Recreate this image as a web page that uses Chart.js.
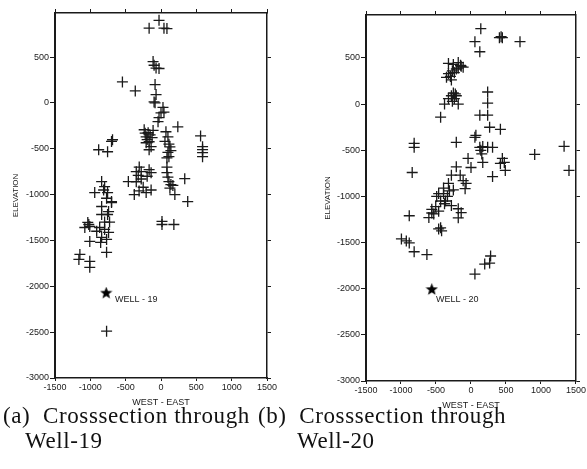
<!DOCTYPE html>
<html>
<head>
<meta charset="utf-8">
<script src="https://cdn.jsdelivr.net/npm/chart.js@4/dist/chart.umd.min.js"></script>
<style>
  html, body { margin: 0; padding: 0; background: #fff; }
  body { width: 587px; height: 469px; position: relative; overflow: hidden; }
  canvas { position: absolute; }
  .cap { position: absolute; font-family: "Liberation Serif", "Times New Roman", serif; font-size: 23px; letter-spacing: 0.6px; line-height: 25px; color: #111; white-space: pre; }
</style>
</head>
<body>
<canvas id="c1" width="292" height="410" style="left:0;top:0;"></canvas>
<canvas id="c2" width="291" height="414" style="left:296px;top:0;"></canvas>
<div class="cap" style="left:3px;top:403px;">(a)  Crosssection through</div>
<div class="cap" style="left:25px;top:428px;">Well-19</div>
<div class="cap" style="left:258px;top:403px;">(b)  Crosssection through</div>
<div class="cap" style="left:297px;top:428px;">Well-20</div>
<script>
// ---- tick labels ----
const xTicks = [-1500, -1000, -500, 0, 500, 1000, 1500];
const yTicks = [500, 0, -500, -1000, -1500, -2000, -2500, -3000];

// ---- Well-19 cross-section (West-East, Elevation) ----
const well19X = [-28,-168,42,84,-112,-98,-70,-28,-546,-364,-84,-70,-98,-84,28,42,-28,-42,0,238,
  560,588,588,588,588,-882,-756,-686,-700,
  -238,-182,-210,-168,-210,-126,-140,-168,-224,-196,-112,-154,
  70,98,112,140,98,126,84,112,56,
  -308,-350,-322,-280,-350,-280,-168,-140,-196,-462,-378,-210,-310,-252,-140,
  84,112,140,98,126,168,336,378,196,84,
  -840,-798,-756,-700,-938,-812,-770,-840,-742,-700,-840,-756,-1036,-1008,-1078,-868,-798,-742,-840,-770,
  -1008,-854,-770,-1148,-1162,-1008,-1008,-798,-910,-728,-1022,
  14,14,182,-770];
const well19Y = [900,815,815,810,450,410,380,375,228,130,200,90,10,0,-50,-100,-160,-205,-110,-261,
  -360,-478,-510,-543,-587,-511,-533,-402,-420,
  -293,-326,-370,-424,-435,-380,-478,-511,-330,-400,-300,-350,
  -315,-370,-450,-520,-540,-480,-600,-587,-420,
  -700,-750,-790,-830,-860,-750,-728,-761,-800,-858,-1000,-978,-960,-920,-950,
  -761,-858,-891,-810,-930,-900,-826,-1076,-1000,-700,
  -858,-913,-978,-1076,-978,-950,-1040,-1130,-1185,-1087,-1217,-1217,-1304,-1348,-1359,-1359,-1380,-1413,-1467,-1489,
  -1511,-1522,-1630,-1652,-1707,-1728,-1793,-1300,-1400,-1300,-1326,
  -1293,-1326,-1326,-2489];

// ---- Well-20 cross-section ----
const well20X = [140,56,126,406,448,430,700,
  -322,-252,-182,-112,-140,-210,-266,-322,-350,-294,-182,-238,-280,-150,
  -252,-280,-322,-210,-238,-378,-182,-266,-224,-434,
  238,238,126,238,266,420,70,56,-210,-812,-812,126,168,238,308,140,154,448,476,420,490,308,910,1330,1400,-840,-42,0,168,
  -210,-280,-154,-112,-70,-84,-322,-392,-308,-462,-392,-336,-490,-434,-364,-504,-560,-462,-532,-602,-378,
  -182,-140,-182,-434,-420,-462,-882,-994,-924,-882,-812,-630,56,196,266,280,-252,-280,-560];
const well20Y = [817,676,567,719,719,730,676,
  440,430,450,400,410,380,360,330,290,300,390,340,262,420,
  120,90,60,90,60,0,0,30,110,-142,
  131,11,-120,-120,-251,-273,-338,-360,-414,-425,-469,-469,-460,-469,-469,-501,-540,-589,-632,-643,-719,-785,-545,-458,-719,-741,-589,-687,-632,
  -680,-770,-770,-830,-860,-916,-860,-910,-940,-970,-970,-1000,-1000,-1050,-1050,-1110,-1140,-1160,-1190,-1230,-1080,
  -1134,-1177,-1232,-1341,-1373,-1352,-1210,-1461,-1482,-1504,-1600,-1630,-1842,-1733,-1722,-1646,-930,-1100,-1180];

// ---- well locations and labels ----
const well19Star = [-775, -2075];
const well20Star = [-560, -2010];
const well19Label = ["WELL - 19", -650, -2145];
const well20Label = ["WELL - 20", -500, -2115];

function makeStar(size) {
  const c = document.createElement('canvas');
  c.width = c.height = size;
  const g = c.getContext('2d');
  const cx = size / 2, cy = size / 2, R = size / 2, r = R * 0.42;
  g.beginPath();
  for (let i = 0; i < 10; i++) {
    const a = -Math.PI / 2 + i * Math.PI / 5;
    const rr = i % 2 ? r : R;
    g.lineTo(cx + rr * Math.cos(a), cy + rr * Math.sin(a));
  }
  g.closePath();
  g.fillStyle = '#000';
  g.fill();
  return c;
}
const starImg = makeStar(13);

const ink = '#1a1a1a';
const tickFont = { family: 'Liberation Sans, Arial, sans-serif', size: 9 };

const labelPlugin = {
  id: 'wellLabel',
  afterDatasetsDraw(chart, args, opts) {
    const { ctx, scales } = chart;
    const lab = opts.label;
    ctx.save();
    ctx.font = '9px "Liberation Sans", Arial, sans-serif';
    ctx.fillStyle = ink;
    ctx.textBaseline = 'middle';
    ctx.textAlign = 'left';
    ctx.fillText(lab[0], scales.x.getPixelForValue(lab[1]), scales.y.getPixelForValue(lab[2]));
    ctx.restore();
  }
};

function makeChart(id, xs, ys, star, label, yMax, pad, yWidth, yTitlePad, xHeight, xTitlePadB) {
  const pts = xs.map((x, i) => ({ x: x, y: ys[i] }));
  const setX = s => { s.ticks = xTicks.map(v => ({ value: v })); };
  const setY = s => { s.ticks = yTicks.map(v => ({ value: v })); };
  return new Chart(document.getElementById(id), {
    type: 'scatter',
    data: {
      datasets: [
        { data: pts, pointStyle: 'cross', pointRadius: 5.5, pointHoverRadius: 5.5,
          borderColor: ink, backgroundColor: ink, borderWidth: 1.3 },
        { data: [{ x: star[0], y: star[1] }], pointStyle: starImg, pointRadius: 6.5 }
      ]
    },
    plugins: [labelPlugin],
    options: {
      responsive: false,
      animation: false,
      events: [],
      layout: { padding: pad },
      plugins: { legend: { display: false }, tooltip: { enabled: false }, wellLabel: { label: label } },
      scales: {
        x: {
          type: 'linear', position: 'bottom', min: -1500, max: 1500,
          afterBuildTicks: setX,
          ticks: { font: tickFont, color: ink, padding: 1, maxRotation: 0, autoSkip: false, callback: v => String(v) },
          grid: { drawOnChartArea: false, tickLength: 3, color: ink, lineWidth: 1 },
          border: { color: ink, width: 1.5 },
          title: { display: true, text: 'WEST - EAST', color: ink, font: tickFont, padding: { top: 2, bottom: xTitlePadB } },
          afterFit: s => { s.height = xHeight; }
        },
        x2: {
          type: 'linear', position: 'top', min: -1500, max: 1500,
          afterBuildTicks: setX,
          ticks: { display: false },
          grid: { drawOnChartArea: false, tickLength: 4, color: ink, lineWidth: 1 },
          border: { color: ink, width: 1.5 },
          afterFit: s => { s.height = 4; }
        },
        y: {
          type: 'linear', position: 'left', min: -3000, max: yMax,
          afterBuildTicks: setY,
          ticks: { font: tickFont, color: ink, padding: 1, autoSkip: false, callback: v => String(v) },
          grid: { drawOnChartArea: false, tickLength: 5, color: ink, lineWidth: 1 },
          border: { color: ink, width: 2 },
          title: { display: true, text: 'ELEVATION', color: ink, font: { family: 'Liberation Sans, Arial, sans-serif', size: 8 }, padding: { top: yTitlePad, bottom: 0 } },
          afterFit: s => { s.width = yWidth; }
        },
        y2: {
          type: 'linear', position: 'right', min: -3000, max: yMax,
          afterBuildTicks: setY,
          ticks: { display: false },
          grid: { drawOnChartArea: false, tickLength: 4, color: ink, lineWidth: 1 },
          border: { color: ink, width: 1.5 },
          afterFit: s => { s.width = 4; }
        }
      }
    }
  });
}

makeChart('c1', well19X, well19Y, well19Star, well19Label, 980,
  { left: 0, top: 9, right: 21, bottom: 0 }, 55, 11, 32, 2);
makeChart('c2', well20X, well20Y, well20Star, well20Label, 965,
  { left: 0, top: 11, right: 3, bottom: 0 }, 70, 27, 33, 3);
</script>
</body>
</html>
